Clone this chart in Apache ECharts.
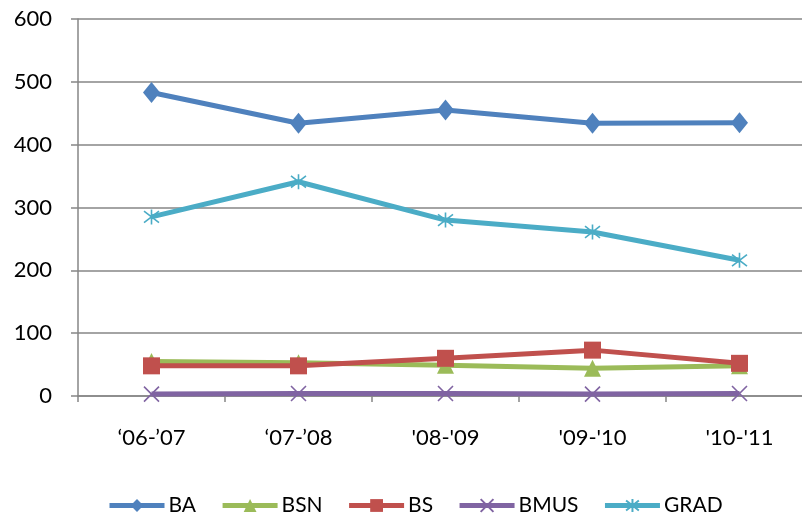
<!DOCTYPE html>
<html><head><meta charset="utf-8">
<script src="https://cdn.jsdelivr.net/npm/echarts@6/dist/echarts.min.js"></script>
<style>html,body{margin:0;padding:0;background:#fff;overflow:hidden}#c{width:824px;height:517px}</style>
</head><body><div id="c"></div>
<script>
const categories = ['\u201806-\u201907', '\u201807-\u201908', "'08-'09", "'09-'10", "'10-'11"];
const BA = [483, 434, 455, 434, 435];
const BSN = [55, 53, 49, 44, 48];
const BS = [48, 48, 60, 73, 52];
const BMUS = [3, 4, 4, 3, 4];
const GRAD = [285, 341, 280, 261, 216];
const yTicks = [0, 100, 200, 300, 400, 500, 600];

const FONT = 'Lato, "Open Sans", sans-serif';
const crossPath = 'path://M0,0L10,10M10,0L0,10';
const starPath = 'path://M0,0L10,10M10,0L0,10M5,-1.5L5,11.5';

function mk(name, data, color, symbol, size, stroke) {
  return {
    name, type: 'line', data, symbol, symbolSize: size,
    lineStyle: {color, width: 5},
    itemStyle: stroke ? {color: 'rgba(0,0,0,0)', borderColor: color, borderWidth: 1.6} : {color},
    emphasis: {disabled: true},
    animation: false
  };
}

const chart = echarts.init(document.getElementById('c'));
chart.setOption({
  animation: false,
  grid: {left: 78, top: 19, width: 735, height: 377, containLabel: false},
  legend: {
    top: 490, left: 102, itemWidth: 55, itemHeight: 16, itemGap: 24,
    lineStyle: {width: 5},
    textStyle: {fontFamily: FONT, fontSize: 21, color: '#000', padding: [0,0,0,-1]},
    data: ['BA', 'BSN', 'BS', 'BMUS', 'GRAD']
  },
  xAxis: {
    type: 'category', data: categories, boundaryGap: true,
    axisLine: {lineStyle: {color: '#868686', width: 1.5}},
    axisTick: {show: true, length: 6, inside: false, lineStyle: {color: '#868686', width: 1.5}},
    axisLabel: {fontFamily: FONT, fontSize: 22, color: '#000', margin: 31}
  },
  yAxis: {
    type: 'value', min: 0, max: 600, interval: 100,
    axisLine: {show: true, lineStyle: {color: '#868686', width: 1.5}},
    axisTick: {show: true, length: 7, lineStyle: {color: '#868686', width: 1.5}},
    splitLine: {lineStyle: {color: '#868686', width: 1.5}},
    axisLabel: {fontFamily: FONT, fontSize: 22, color: '#000', margin: 26,
      formatter: v => yTicks.includes(v) ? String(v) : ''}
  },
  series: [
    mk('BA', BA, '#4F81BD', 'diamond', [17, 21]),
    mk('BSN', BSN, '#9BBB59', 'triangle', 17),
    mk('BS', BS, '#C0504D', 'rect', 17),
    mk('BMUS', BMUS, '#8064A2', crossPath, 15, true),
    mk('GRAD', GRAD, '#4BACC6', starPath, 15, true)
  ]
});
</script></body></html>
